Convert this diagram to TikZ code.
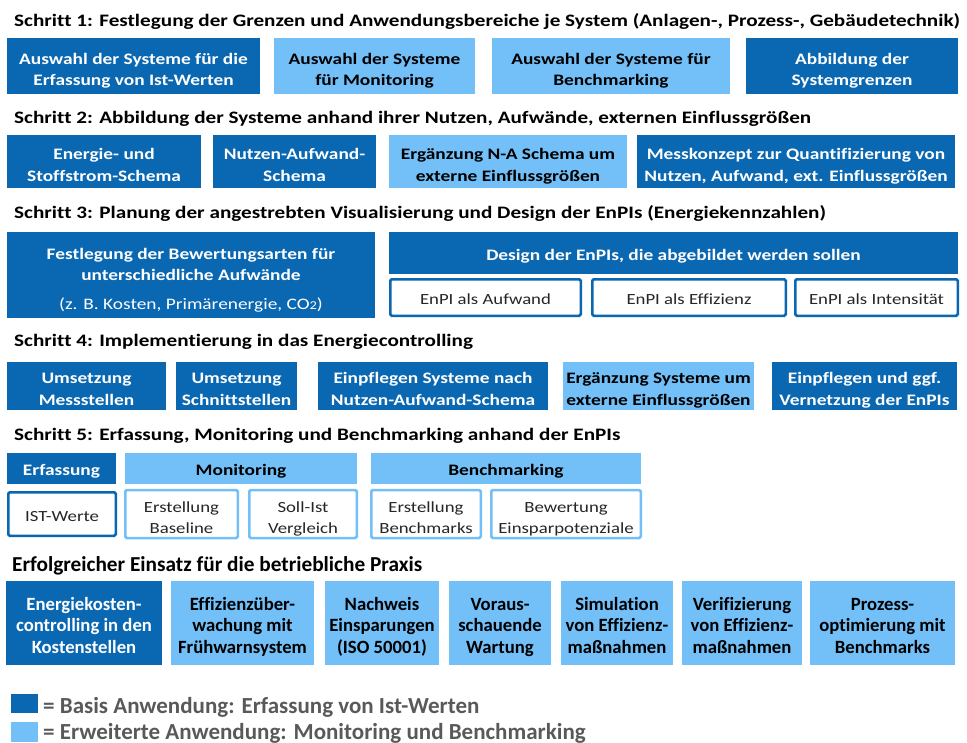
\documentclass[tikz,border=0pt]{standalone}
\usepackage{fontspec}
\setmainfont{Carlito}[FakeStretch=1.21, Ligatures=NoCommon]
\newfontfamily\plainfont{Carlito}[Ligatures=NoCommon]
\usetikzlibrary{positioning}
\usepackage{xcolor}
\definecolor{basisblue}{HTML}{0A67B1}
\definecolor{extblue}{HTML}{73BFF8}
\definecolor{legendgray}{HTML}{595959}

\begin{document}
\begin{tikzpicture}[ 
x=1pt, y=-1pt, 
head/.style={anchor=base west, 
inner sep=0pt, 
font=\fontsize{17.5}{21}\selectfont\bfseries}, 
toplift/.style={execute at begin node={\rule{0pt}{#1}}}, 
twolines/.style={toplift=43.5pt}, 
threelines/.style={toplift=65pt}, 
basis/.style={fill=basisblue, 
text=white, 
inner sep=0pt, 
align=center, 
toplift=19pt, 
execute at end node={\rule[-4.5pt]{0pt}{4.5pt}}, 
font=\fontsize{16}{21.5}\selectfont\bfseries}, 
ext/.style={basis, fill=extblue, text=black}, 
enpi/.style={draw=basisblue, 
line width=2.5pt, 
rounded corners=1.5pt, 
fill=white, 
text=black!85, 
inner sep=0pt, 
align=center, 
toplift=19pt, 
execute at end node={\rule[-4.5pt]{0pt}{4.5pt}}, 
font=\fontsize{15.5}{21.5}\selectfont}, 
subbox/.style={enpi, draw=extblue}, 
praxis/.style={threelines, minimum height=84pt, font=\plainfont\fontsize{18.7}{21.5}\selectfont\bfseries}, 
legendtext/.style={anchor=base west, 
inner sep=0pt, 
text=legendgray, 
font=\plainfont\fontsize{23}{26}\selectfont\bfseries} 
]
\useasboundingbox (0,0) rectangle (967,742);

% Schritt 1
\node[head] (head1) at (14,26) {Schritt 1: Festlegung der Grenzen und Anwendungsbereiche je System (Anlagen-, Prozess-, Gebäudetechnik)};
\node[basis, twolines, minimum width=253pt, minimum height=56pt] (sys1) at (133.5,66) {Auswahl der Systeme für die\\Erfassung von Ist-Werten};
\node[ext, twolines, minimum width=201pt, minimum height=56pt] (sys2) at (374.5,66) {Auswahl der Systeme\\für Monitoring};
\node[ext, twolines, minimum width=238pt, minimum height=56pt] (sys3) at (611,66) {Auswahl der Systeme für\\Benchmarking};
\node[basis, twolines, minimum width=212pt, minimum height=56pt] (sys4) at (852,66) {Abbildung der\\Systemgrenzen};

% Schritt 2
\node[head] (head2) at (14,123) {Schritt 2: Abbildung der Systeme anhand ihrer Nutzen, Aufwände, externen Einflussgrößen};
\node[basis, twolines, minimum width=194pt, minimum height=53pt] (map1) at (104,161.5) {Energie- und\\Stoffstrom-Schema};
\node[basis, twolines, minimum width=163pt, minimum height=53pt] (map2) at (294.5,161.5) {Nutzen-Aufwand-\\Schema};
\node[ext, twolines, minimum width=238pt, minimum height=53pt] (map3) at (508,161.5) {Ergänzung N-A Schema um\\externe Einflussgrößen};
\node[basis, twolines, minimum width=318pt, minimum height=53pt] (map4) at (796,161.5) {Messkonzept zur Quantifizierung von\\Nutzen, Aufwand, ext. Einflussgrößen};

% Schritt 3
\node[head] (head3) at (14,218) {Schritt 3: Planung der angestrebten Visualisierung und Design der EnPIs (Energiekennzahlen)};
\node[basis, toplift=73pt, minimum width=368pt, minimum height=86pt] (rating) at (191,275) {Festlegung der Bewertungsarten für\\unterschiedliche Aufwände\\[7pt]{\mdseries (z. B. Kosten, Primärenergie, CO{\fontsize{12}{14}\selectfont 2})}};
\node[basis, minimum width=569pt, minimum height=42pt] (design) at (673.5,253) {Design der EnPIs, die abgebildet werden sollen};
\node[enpi, minimum width=190.5pt, minimum height=36.5pt] (enpi1) at (485.5,297.5) {EnPI als Aufwand};
\node[enpi, minimum width=193.5pt, minimum height=36.5pt] (enpi2) at (689,297.5) {EnPI als Effizienz};
\node[enpi, minimum width=162.5pt, minimum height=36.5pt] (enpi3) at (876.5,297.5) {EnPI als Intensität};

% Schritt 4
\node[head] (head4) at (14,346) {Schritt 4: Implementierung in das Energiecontrolling};
\node[basis, twolines, minimum width=159pt, minimum height=47pt] (impl1) at (86.5,385.5) {Umsetzung\\Messstellen};
\node[basis, twolines, minimum width=121pt, minimum height=47pt] (impl2) at (236.5,385.5) {Umsetzung\\Schnittstellen};
\node[basis, twolines, minimum width=230pt, minimum height=47pt] (impl3) at (433,385.5) {Einpflegen Systeme nach\\Nutzen-Aufwand-Schema};
\node[ext, twolines, minimum width=191pt, minimum height=47pt] (impl4) at (658.5,385.5) {Ergänzung Systeme um\\externe Einflussgrößen};
\node[basis, twolines, minimum width=185pt, minimum height=47pt] (impl5) at (864.5,385.5) {Einpflegen und ggf.\\Vernetzung der EnPIs};

% Schritt 5
\node[head] (head5) at (14,440) {Schritt 5: Erfassung, Monitoring und Benchmarking anhand der EnPIs};
\node[basis, minimum width=109pt, minimum height=31pt] (erf) at (61.5,468.5) {Erfassung};
\node[ext, minimum width=232pt, minimum height=31pt] (mon) at (241,468.5) {Monitoring};
\node[ext, minimum width=270pt, minimum height=31pt] (bench) at (506,468.5) {Benchmarking};
\node[enpi, minimum width=107.5pt, minimum height=43.5pt] (ist) at (62,514) {IST-Werte};
\node[subbox, twolines, minimum width=112.5pt, minimum height=43.5pt] (base) at (181.5,514) {Erstellung\\Baseline};
\node[subbox, twolines, minimum width=107.5pt, minimum height=43.5pt] (soll) at (303,514) {Soll-Ist\\Vergleich};
\node[subbox, twolines, minimum width=109.5pt, minimum height=43.5pt] (bmk) at (426,514) {Erstellung\\Benchmarks};
\node[subbox, twolines, minimum width=149.5pt, minimum height=43.5pt] (pot) at (566,514) {Bewertung\\Einsparpotenziale};

% Praxis
\node[head, font=\plainfont\fontsize{21.3}{24}\selectfont\bfseries] (head6) at (12,571) {Erfolgreicher Einsatz für die betriebliche Praxis};
\node[basis, praxis, minimum width=156pt] (use1) at (84,623) {Energiekosten-\\controlling in den\\Kostenstellen};
\node[ext, praxis, minimum width=143pt] (use2) at (242.5,623) {Effizienzüber-\\wachung mit\\Frühwarnsystem};
\node[ext, praxis, minimum width=114pt] (use3) at (382,623) {Nachweis\\Einsparungen\\(ISO 50001)};
\node[ext, praxis, minimum width=102pt] (use4) at (500,623) {Voraus-\\schauende\\Wartung};
\node[ext, praxis, minimum width=112pt] (use5) at (617,623) {Simulation\\von Effizienz-\\maßnahmen};
\node[ext, praxis, minimum width=120pt] (use6) at (742,623) {Verifizierung\\von Effizienz-\\maßnahmen};
\node[ext, praxis, minimum width=145pt] (use7) at (882.5,623) {Prozess-\\optimierung mit\\Benchmarks};

% Legende
\node[fill=basisblue, minimum width=27pt, minimum height=19pt, inner sep=0pt] (keybasis) at (24.5,703.5) {};
\node[fill=extblue, minimum width=27pt, minimum height=20pt, inner sep=0pt] (keyext) at (24.5,732) {};
\node[legendtext] (txtbasis) at (43,713) {= Basis Anwendung: Erfassung von Ist-Werten};
\node[legendtext] (txtext) at (43,739.5) {= Erweiterte Anwendung: Monitoring und Benchmarking};

\end{tikzpicture}
\end{document}
